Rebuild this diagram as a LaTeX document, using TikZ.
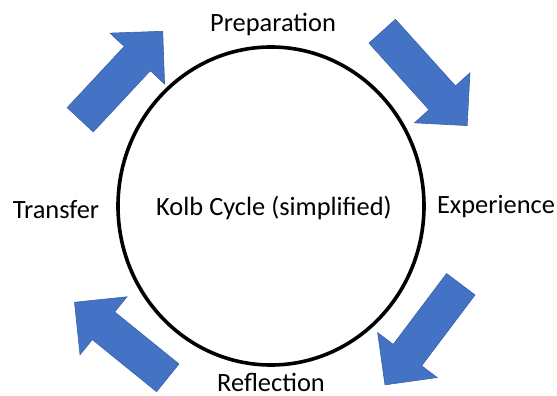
\documentclass[tikz,border=0pt]{standalone}
\usepackage{fontspec}
\setmainfont{Carlito}
\usepackage{tikz}
\usetikzlibrary{shapes.geometric,shapes.arrows}
\definecolor{arrowblue}{HTML}{4472C4}

\begin{document}
\begin{tikzpicture}[x=1pt,y=-1pt,
					font=\fontsize{26.4}{30}\selectfont,
					ring/.style={ellipse, draw=black, line width=3.6pt, minimum width=306pt, minimum height=318pt, inner sep=0pt},
					blockarrow/.style={single arrow, fill=arrowblue, draw=arrowblue!85!black, line width=0.6pt,
						inner xsep=0pt, inner ysep=17.5pt, single arrow head extend=19.5pt,
						single arrow tip angle=90, minimum height=#1, anchor=tail},
					steplabel/.style={inner sep=0pt},
					]
					\useasboundingbox (0,0) rectangle (557,396);
					%Cycle
					\node[ring]           (cycle)   at  (271,206)      {};
					\node[steplabel]      (title)   at  (274,208)      {Kolb Cycle (simplified)};
					%Stages
					\node[steplabel]      (prep)    at  (273,25)       {Preparation};
					\node[steplabel]      (exp)     at  (496,207)      {Experience};
					\node[steplabel, anchor=base] (refl) at (271,391)  {Reflection};
					\node[steplabel]      (trans)   at  (56,210)       {Transfer};
					%Arrows
					\node[blockarrow=121pt, rotate=47]   (toprep)  at  (80,120)   {};
					\node[blockarrow=127pt, rotate=-48]  (toexp)   at  (382,31)   {};
					\node[blockarrow=126pt, rotate=233]  (torefl)  at  (461,284)  {};
					\node[blockarrow=120pt, rotate=141]  (totrans) at  (168,378)  {};
\end{tikzpicture}
\end{document}
